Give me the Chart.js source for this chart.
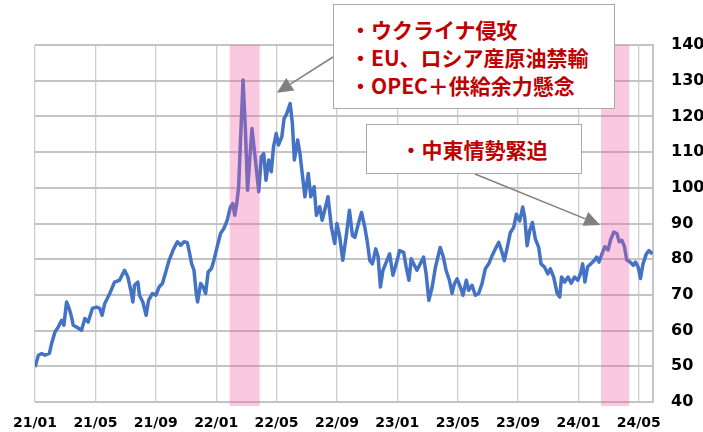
<!DOCTYPE html>
<html>
<head>
<meta charset="utf-8">
<script src="https://cdn.jsdelivr.net/npm/chart.js@4"></script>
<style>
  body { margin: 0; background: #fff; }
  #wrap { position: relative; width: 703px; height: 432px; }
  .note {
    position: absolute;
    background: #fff;
    border: 1px solid #a9a9a9;
    box-sizing: border-box;
    color: #c00000;
    font-family: "Noto Sans CJK JP", sans-serif;
    font-weight: bold;
    font-size: 21px;
    line-height: 28px;
    white-space: nowrap;
  }
  #note1 { left: 333px; top: 4px; width: 282px; height: 105px; padding: 10px 0 0 16px; }
  #note2 { left: 366px; top: 124px; width: 216px; height: 50px; text-align: center; padding-top: 10px; }
</style>
</head>
<body>
<div id="wrap">
  <canvas id="oil-chart" width="703" height="432"></canvas>
  <div class="note" id="note1">・ウクライナ侵攻<br>・EU、ロシア産原油禁輸<br>・OPEC＋供給余力懸念</div>
  <div class="note" id="note2">・中東情勢緊迫</div>
</div>
<script>
// months since 2021/01 and price
const monthIdx = [
  0.00, 0.22, 0.44, 0.66, 0.95, 1.10, 1.32, 1.54, 1.76, 1.91, 2.09, 2.26, 2.42, 2.53, 2.75, 3.08, 3.30, 3.52, 3.80,
  4.07, 4.29, 4.44, 4.62, 4.95, 5.27, 5.60, 5.93, 6.15, 6.37, 6.48, 6.59, 6.81, 6.92, 7.14, 7.36, 7.52, 7.78,
  8.00, 8.22, 8.44, 8.66, 8.88, 9.14, 9.43, 9.65, 9.87, 10.09, 10.20, 10.37, 10.53, 10.68, 10.77, 10.97, 11.14,
  11.30, 11.47, 11.69, 11.85, 12.07, 12.29, 12.51, 12.73, 12.95, 13.10, 13.23, 13.38, 13.49, 13.62, 13.78, 13.93,
  14.08, 14.37, 14.60, 14.82, 14.99, 15.15, 15.30, 15.48, 15.65, 15.80, 15.98, 16.13, 16.35, 16.50, 16.68, 16.90,
  17.05, 17.18, 17.40, 17.55, 17.70, 17.88, 18.10, 18.27, 18.49, 18.64, 18.86, 19.02, 19.19, 19.41, 19.63, 19.85,
  20.00, 20.17, 20.39, 20.61, 20.83, 21.03, 21.19, 21.41, 21.63, 21.85, 22.00, 22.18, 22.35, 22.57, 22.73, 22.88,
  23.05, 23.27, 23.49, 23.71, 23.93, 24.15, 24.42, 24.59, 24.77, 24.92, 25.14, 25.30, 25.52, 25.74, 25.91, 26.09,
  26.31, 26.53, 26.84, 27.05, 27.23, 27.45, 27.63, 27.78, 27.96, 28.18, 28.35, 28.57, 28.73, 28.95, 29.17, 29.39,
  29.61, 29.83, 30.06, 30.28, 30.50, 30.72, 30.94, 31.09, 31.31, 31.49, 31.71, 31.89, 32.11, 32.31, 32.44, 32.60,
  32.77, 32.95, 33.15, 33.37, 33.52, 33.75, 33.97, 34.14, 34.36, 34.59, 34.76, 34.88, 35.09, 35.31, 35.52, 35.74,
  35.96, 36.17, 36.28, 36.43, 36.61, 36.82, 37.04, 37.21, 37.36, 37.58, 37.75, 37.97, 38.12, 38.34, 38.55, 38.70,
  38.88, 39.05, 39.20, 39.42, 39.63, 39.78, 39.96, 40.11, 40.28, 40.50, 40.67, 40.90
];
const price = [
  49.8, 53.1, 53.6, 53.1, 53.6, 56.4, 59.6, 61.0, 62.9, 61.5, 68.0, 66.2, 63.8, 61.5, 61.0, 60.1, 63.4, 62.4, 66.2,
  66.6, 66.2, 64.3, 67.6, 70.4, 73.6, 74.1, 76.9, 75.0, 70.8, 68.0, 72.7, 73.6, 69.9, 68.0, 64.3, 68.5, 70.4,
  69.9, 72.2, 73.2, 76.4, 79.7, 82.5, 84.9, 83.9, 84.9, 84.6, 82.5, 78.8, 76.9, 70.4, 68.0, 73.2, 72.2,
  70.4, 76.4, 77.4, 79.7, 83.5, 87.2, 88.6, 90.9, 94.7, 95.6, 92.3, 96.1, 100.3, 114.0, 130.2, 117.1,
  99.3, 116.6, 107.8, 98.9, 108.7, 109.6, 102.1, 107.8, 104.5, 111.5, 115.2, 112.0, 114.3, 119.4, 120.8, 123.6,
  118.0, 107.8, 113.4, 109.6, 104.0, 97.5, 104.0, 97.5, 100.3, 92.3, 94.7, 90.9, 93.7, 97.5, 89.1, 84.4,
  90.0, 86.7, 79.7, 86.3, 93.7, 86.6, 86.1, 89.8, 93.1, 88.9, 85.2, 79.6, 78.7, 82.9, 80.6, 72.2,
  76.9, 79.2, 81.5, 75.5, 78.7, 82.4, 81.9, 77.8, 74.1, 80.1, 78.2, 76.9, 78.7, 80.6, 75.9, 68.5,
  72.2, 77.8, 83.3, 80.6, 76.9, 74.1, 70.4, 73.1, 74.5, 72.2, 69.9, 74.1, 71.3, 72.7, 69.9, 70.4,
  73.1, 77.3, 78.7, 81.0, 82.9, 84.7, 81.9, 79.6, 83.8, 87.5, 88.9, 92.6, 90.7, 94.6, 91.7, 83.8,
  88.0, 90.3, 85.6, 83.3, 78.7, 77.8, 75.9, 77.3, 75.0, 70.4, 69.4, 75.0, 73.6, 75.0, 73.3, 75.0,
  74.1, 76.4, 78.7, 73.6, 77.9, 78.7, 79.6, 80.6, 79.2, 81.7, 83.5, 82.6, 85.3, 87.6, 87.2, 84.9,
  85.3, 83.5, 79.8, 79.2, 78.3, 79.2, 77.8, 74.6, 78.7, 81.5, 82.4, 81.5
];
const tickLabels = ["21/01", "21/05", "21/09", "22/01", "22/05", "22/09", "23/01", "23/05", "23/09", "24/01", "24/05"];
// highlighted periods (months since 2021/01)
const bandStarts = [12.9, 37.5];
const bandEnds = [14.88, 39.37];
// arrow tips in chart units: [month, price]
const arrowTips = [[16.02, 126.6], [37.44, 89.6]];
const arrowTails = [[333, 57], [475, 174]];

const bandPlugin = {
  id: "bands",
  afterDatasetsDraw(chart) {
    const { ctx, chartArea, scales } = chart;
    ctx.save();
    ctx.fillStyle = "rgba(240,90,160,0.33)";
    bandStarts.forEach((s, i) => {
      const x0 = scales.x.getPixelForValue(s);
      const x1 = scales.x.getPixelForValue(bandEnds[i]);
      ctx.fillRect(x0, chartArea.top, x1 - x0, chartArea.bottom - chartArea.top + 4);
    });
    ctx.restore();
  }
};

const arrowPlugin = {
  id: "arrows",
  afterDraw(chart) {
    const { ctx, scales } = chart;
    ctx.save();
    ctx.strokeStyle = "#808080";
    ctx.fillStyle = "#808080";
    ctx.lineWidth = 1.5;
    arrowTips.forEach((t, i) => {
      const tx = scales.x.getPixelForValue(t[0]);
      const ty = scales.y.getPixelForValue(t[1]);
      const [sx, sy] = arrowTails[i];
      const ang = Math.atan2(ty - sy, tx - sx);
      const len = 16, half = 7.5;
      const bx = tx - len * Math.cos(ang), by = ty - len * Math.sin(ang);
      ctx.beginPath();
      ctx.moveTo(sx, sy);
      ctx.lineTo(bx, by);
      ctx.stroke();
      ctx.beginPath();
      ctx.moveTo(tx, ty);
      ctx.lineTo(bx + half * Math.sin(ang), by - half * Math.cos(ang));
      ctx.lineTo(bx - half * Math.sin(ang), by + half * Math.cos(ang));
      ctx.closePath();
      ctx.fill();
    });
    ctx.restore();
  }
};

const tickFont = { family: "DejaVu Sans", weight: "bold" };

new Chart(document.getElementById("oil-chart"), {
  type: "line",
  data: {
    datasets: [{
      data: monthIdx.map((m, i) => ({ x: m, y: price[i] })),
      borderColor: "#4472c4",
      borderWidth: 3.5,
      pointRadius: 0,
      tension: 0,
      borderJoinStyle: "round"
    }]
  },
  options: {
    responsive: false,
    animation: false,
    devicePixelRatio: 1,
    layout: { padding: { left: 32, top: 45, right: 0, bottom: 0 } },
    plugins: { legend: { display: false }, tooltip: { enabled: false } },
    scales: {
      x: {
        type: "linear",
        min: 0,
        max: 40.94,
        ticks: {
          stepSize: 4,
          includeBounds: false,
          autoSkip: false,
          maxRotation: 0,
          padding: 13,
          color: "#000",
          font: { ...tickFont, size: 14 },
          callback: v => tickLabels[Math.round(v / 4)]
        },
        grid: { color: "#cdcdcd", lineWidth: 1.3, drawTicks: false },
        border: { display: false },
        afterFit: s => { s.height = 30; }
      },
      y: {
        position: "right",
        min: 40,
        max: 140,
        ticks: {
          stepSize: 10,
          padding: 18,
          color: "#000",
          font: { ...tickFont, size: 16 }
        },
        grid: { color: "#c4c4c4", lineWidth: 2, drawTicks: false },
        border: { display: true, color: "#c4c4c4", width: 2 },
        afterFit: s => { s.width = 50; }
      }
    }
  },
  plugins: [bandPlugin, arrowPlugin]
});
</script>
</body>
</html>
